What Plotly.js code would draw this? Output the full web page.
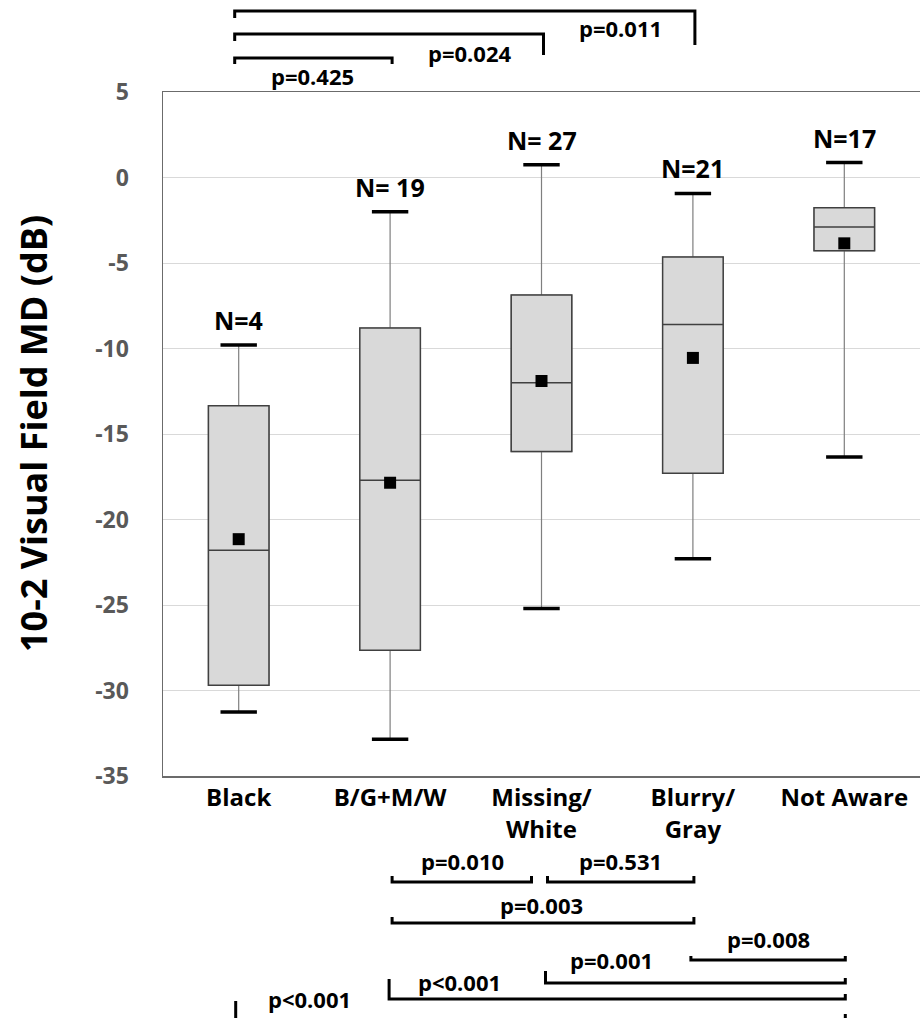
<!DOCTYPE html>
<html>
<head>
<meta charset="utf-8">
<script src="https://cdn.plot.ly/plotly-3.0.1.min.js"></script>
<style>html,body{margin:0;padding:0;background:#fff;}#chart{width:920px;height:1018px;}</style>
</head>
<body>
<div id="chart"></div>
<script>
// ---- data ----
const categories = ['Black', 'B/G+M/W', 'Missing/<br>White', 'Blurry/<br>Gray', 'Not Aware'];
const nLabels = ['N=4', 'N= 19', 'N= 27', 'N=21', 'N=17'];
const upperFence = [-9.8, -2.0, 0.75, -0.93, 0.87];
const q3 = [-13.35, -8.8, -6.87, -4.65, -1.77];
const median = [-21.8, -17.7, -12.0, -8.6, -2.9];
const q1 = [-29.7, -27.65, -16.03, -17.3, -4.28];
const lowerFence = [-31.25, -32.85, -25.2, -22.3, -16.35];
const mean = [-21.15, -17.85, -11.9, -10.55, -3.85];

const yTickVals = [5, 0, -5, -10, -15, -20, -25, -30, -35];
const yTickText = ['5', '0', '-5', '-10', '-15', '-20', '-25', '-30', '-35'];

const topPairs = [[0, 1], [0, 2], [0, 3]];
const topLabels = ['p=0.425', 'p=0.024', 'p=0.011'];
const bottomPairs = [[1, 2], [2, 3], [1, 3], [3, 4], [2, 4], [1, 4], [0, 4]];
const bottomLabels = ['p=0.010', 'p=0.531', 'p=0.003', 'p=0.008', 'p=0.001', 'p<0.001', 'p<0.001'];

// ---- geometry / style (pixel positions of the bracket drawing) ----
const W = 920, H = 1018, ML = 163, MT = 92, MB = 242, MR = 0;
const plotH = H - MT - MB, plotW = W - ML - MR;
const py = v => (H - MB - v) / plotH;          // pixel y -> paper
const cx = (i, dx) => (i + 0.5) / 5 + (dx || 0) / plotW; // category -> paper x

const topGeom = [
  {y: 58, lt: 6, rt: 6, lx: 0.49, ly: 76},
  {y: 34, lt: 7, rt: 21, lx: 1.53, ly: 53},
  {y: 11, lt: 7, rt: 34, lx: 2.52, ly: 28}
];
const bottomGeom = [
  {y: 882, lt: 6, rt: 6, dx0: 2, dx1: -10, lx: 1.48, ly: 861},
  {y: 882, lt: 6, rt: 6, dx0: 6, dx1: 1, lx: 2.52, ly: 861},
  {y: 923, lt: 6, rt: 6, dx0: 2, dx1: 1, lx: 2.0, ly: 905},
  {y: 960, lt: 4, rt: 4, dx0: -2, dx1: 1, lx: 3.5, ly: 939},
  {y: 983, lt: 12, rt: 5, dx0: 4, dx1: 1, lx: 2.46, ly: 960},
  {y: 999, lt: 20, rt: 5, dx0: -1, dx1: 1, lx: 1.46, ly: 982},
  {y: 1021, lt: 20, rt: 7, dx0: -3, dx1: 1, lx: 0.47, ly: 999}
];

const FONT = '"Open Sans", Lato, sans-serif';
const PFONT = {family: FONT, size: 22, color: '#000', weight: 'bold'};
const shapes = [];
const annotations = [];

topPairs.forEach((p, i) => {
  const g = topGeom[i];
  const x0 = cx(p[0], -4), x1 = cx(p[1], 2);
  shapes.push({type: 'path', xref: 'paper', yref: 'paper',
    path: `M ${x0},${py(g.y + g.lt)} L ${x0},${py(g.y)} L ${x1},${py(g.y)} L ${x1},${py(g.y + g.rt)}`,
    line: {color: '#000', width: 3}});
  annotations.push({xref: 'paper', yref: 'paper', x: (g.lx + 0.5) / 5, y: py(g.ly), text: topLabels[i],
    showarrow: false, xanchor: 'center', yanchor: 'middle', font: PFONT});
});

bottomPairs.forEach((p, i) => {
  const g = bottomGeom[i];
  const x0 = cx(p[0], g.dx0), x1 = cx(p[1], g.dx1);
  shapes.push({type: 'path', xref: 'paper', yref: 'paper',
    path: `M ${x0},${py(g.y - g.lt)} L ${x0},${py(g.y)} L ${x1},${py(g.y)} L ${x1},${py(g.y - g.rt)}`,
    line: {color: '#000', width: 3}});
  annotations.push({xref: 'paper', yref: 'paper', x: (g.lx + 0.5) / 5, y: py(g.ly), text: bottomLabels[i],
    showarrow: false, xanchor: 'center', yanchor: 'middle', font: PFONT});
});

categories.forEach((c, i) => {
  annotations.push({x: c, y: upperFence[i], xref: 'x', yref: 'y', text: nLabels[i], showarrow: false,
    xanchor: 'center', yanchor: 'bottom', yshift: 6,
    font: {family: FONT, size: 25, color: '#000', weight: 'bold'}});
});

annotations.push({xref: 'paper', yref: 'paper', x: (33 - ML) / plotW, y: 0.5, textangle: -90,
  text: '10-2 Visual Field MD (dB)', showarrow: false, xanchor: 'center', yanchor: 'middle',
  font: {family: FONT, size: 36, color: '#000', weight: 'bold'}});

const traces = [
  {
    type: 'box', x: categories, q1: q1, median: median, q3: q3,
    lowerfence: lowerFence, upperfence: upperFence, width: 0.4, whiskerwidth: 0,
    boxpoints: false, fillcolor: '#d9d9d9', line: {color: '#7f7f7f', width: 1.2},
    hoverinfo: 'skip', showlegend: false
  },
  {
    type: 'box', x: categories, q1: q1, median: median, q3: q3,
    lowerfence: q1, upperfence: q3, width: 0.4, whiskerwidth: 0,
    boxpoints: false, fillcolor: '#d9d9d9', line: {color: '#404040', width: 1.5},
    hoverinfo: 'skip', showlegend: false
  },
  {
    type: 'scatter', mode: 'markers', x: categories, y: upperFence, showlegend: false,
    marker: {symbol: 'line-ew', size: 26, line: {width: 3.5, color: '#000'}}
  },
  {
    type: 'scatter', mode: 'markers', x: categories, y: lowerFence, showlegend: false,
    marker: {symbol: 'line-ew', size: 26, line: {width: 3.5, color: '#000'}}
  },
  {
    type: 'scatter', mode: 'markers', x: categories, y: mean, showlegend: false,
    marker: {symbol: 'square', size: 12, color: '#000'}
  }
];

const layout = {
  width: W, height: H,
  margin: {l: ML, r: MR, t: MT, b: MB},
  paper_bgcolor: '#fff', plot_bgcolor: '#fff',
  boxmode: 'overlay',
  showlegend: false,
  font: {family: FONT},
  xaxis: {
    type: 'category', categoryorder: 'array', categoryarray: categories,
    range: [-0.5, 4.5], showgrid: false, zeroline: false,
    showline: true, mirror: true, linecolor: '#6b6b6b', linewidth: 1.5,
    ticks: '', ticklabelstandoff: 0,
    tickfont: {family: FONT, size: 24, color: '#000', weight: 'bold'}
  },
  yaxis: {
    range: [-35, 5], tickmode: 'array', tickvals: yTickVals, ticktext: yTickText,
    showgrid: true, gridcolor: '#d9d9d9', gridwidth: 1,
    zeroline: false, showline: true, linecolor: '#6b6b6b', linewidth: 1.5,
    ticks: '', ticklabelstandoff: 28,
    tickfont: {family: FONT, size: 23, color: '#595959', weight: 'bold'}
  },
  shapes: shapes,
  annotations: annotations
};

Plotly.newPlot('chart', traces, layout, {displayModeBar: false, staticPlot: true});
</script>
</body>
</html>
